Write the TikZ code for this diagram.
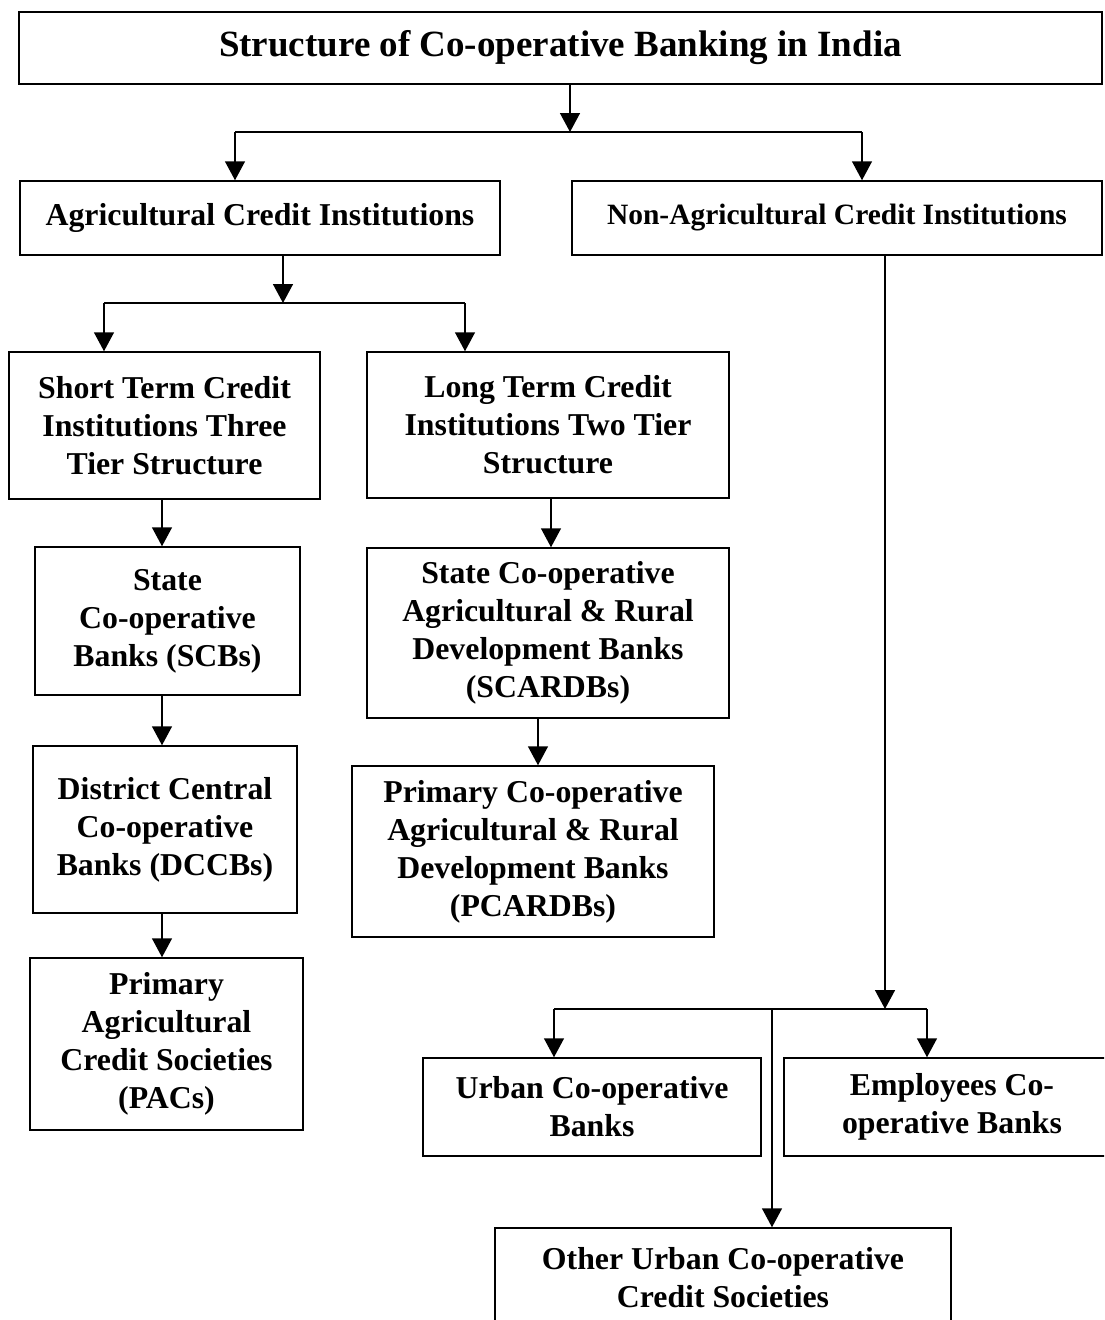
\documentclass[tikz,border=0pt]{standalone}
\usepackage{fontspec}
\setmainfont{Liberation Serif}
\usetikzlibrary{arrows.meta}
\tikzset{
  box/.style={draw, line width=1.5pt, rectangle, inner sep=0pt, align=center,
    font=\fontsize{31.8}{38}\selectfont\bfseries},
  arr/.style={line width=1.5pt, -{Triangle[length=19pt,width=20pt]}},
  ln/.style={line width=1.5pt}
}
\begin{document}
\begin{tikzpicture}[x=1pt,y=-1pt]
\useasboundingbox (0,0) rectangle (1104,1320);
\clip (0,0) rectangle (1104,1320);
\node[box, minimum width=1083pt, minimum height=72pt, font=\fontsize{37}{44}\selectfont\bfseries] (title) at (560.5,48) {Structure of Co-operative Banking in India};
\node[box, minimum width=480pt, minimum height=74pt] (agri) at (260,218) {Agricultural Credit Institutions};
\node[box, minimum width=530pt, minimum height=74pt, font=\fontsize{29.5}{36}\selectfont\bfseries] (nonagri) at (837,218) {Non-Agricultural Credit Institutions};
\node[box, minimum width=311pt, minimum height=147pt] (short) at (164.5,425.5) {Short Term Credit\\Institutions Three\\Tier Structure};
\node[box, minimum width=362pt, minimum height=146pt] (long) at (548,425) {Long Term Credit\\Institutions Two Tier\\Structure};
\node[box, minimum width=265pt, minimum height=148pt] (scb) at (167.5,621) {State\\Co-operative\\Banks (SCBs)};
\node[box, minimum width=362pt, minimum height=170pt] (scardb) at (548,633) {State Co-operative\\Agricultural \& Rural\\Development Banks\\(SCARDBs)};
\node[box, minimum width=264pt, minimum height=167pt] (dccb) at (165,829.5) {District Central\\Co-operative\\Banks (DCCBs)};
\node[box, minimum width=362pt, minimum height=171pt] (pcardb) at (533,851.5) {Primary Co-operative\\Agricultural \& Rural\\Development Banks\\(PCARDBs)};
\node[box, minimum width=273pt, minimum height=172pt] (pacs) at (166.5,1044) {Primary\\Agricultural\\Credit Societies\\(PACs)};
\node[box, minimum width=338pt, minimum height=98pt] (urban) at (592,1107) {Urban Co-operative\\Banks};
\node[box, minimum width=336pt, minimum height=98pt] (emp) at (952,1107) {Employees Co-\\operative Banks};
\node[box, minimum width=456pt, minimum height=100pt] (other) at (723,1278) {Other Urban Co-operative\\Credit Societies};
% top junction
\coordinate (j1) at (570,132);
\coordinate (j1l) at (235,132);
\coordinate (j1r) at (862,132);
\draw[arr] (title.south -| j1) -- (j1);
\draw[ln] (j1l) -- (j1r);
\draw[arr] (j1l) -- (agri.north -| j1l);
\draw[arr] (j1r) -- (nonagri.north -| j1r);
% agri junction
\coordinate (j2) at (283,303);
\coordinate (j2l) at (104,303);
\coordinate (j2r) at (465,303);
\draw[arr] (agri.south -| j2) -- (j2);
\draw[ln] (j2l) -- (j2r);
\draw[arr] (j2l) -- (short.north -| j2l);
\draw[arr] (j2r) -- (long.north -| j2r);
% short-term chain
\coordinate (xs) at (162,0);
\draw[arr] (short.south -| xs) -- (scb.north -| xs);
\draw[arr] (scb.south -| xs) -- (dccb.north -| xs);
\draw[arr] (dccb.south -| xs) -- (pacs.north -| xs);
% long-term chain
\coordinate (xl1) at (551,0);
\coordinate (xl2) at (538,0);
\draw[arr] (long.south -| xl1) -- (scardb.north -| xl1);
\draw[arr] (scardb.south -| xl2) -- (pcardb.north -| xl2);
% non-agri
\coordinate (j3) at (885,1009);
\coordinate (j3l) at (554,1009);
\coordinate (j3r) at (927,1009);
\coordinate (j3m) at (772,1009);
\draw[arr] (nonagri.south -| j3) -- (j3);
\draw[ln] (j3l) -- (j3r);
\draw[arr] (j3l) -- (urban.north -| j3l);
\draw[arr] (j3r) -- (emp.north -| j3r);
\draw[arr] (j3m) -- (other.north -| j3m);
\end{tikzpicture}
\end{document}
